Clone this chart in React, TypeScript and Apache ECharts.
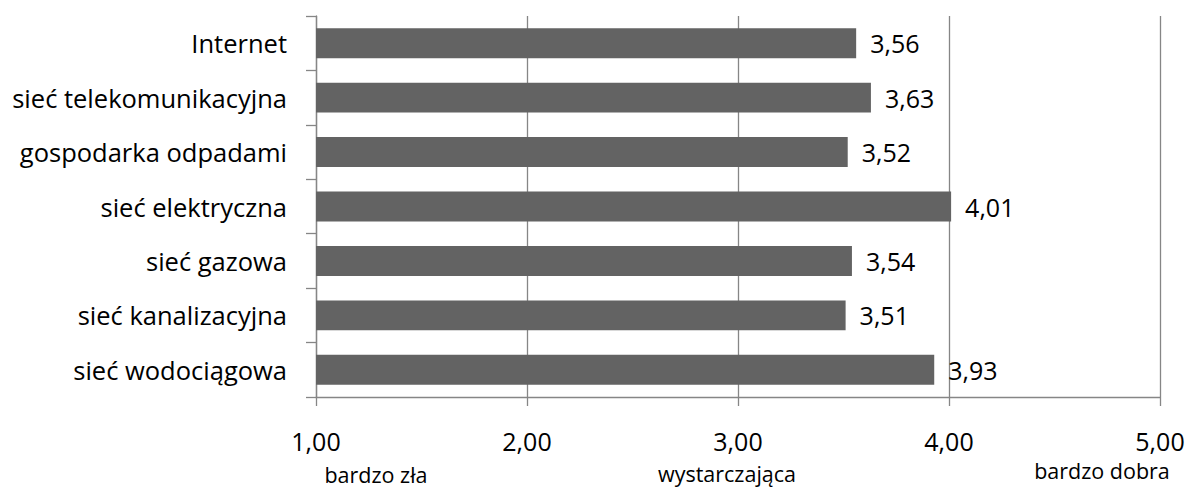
import React, { useEffect, useRef } from "react";
import * as echarts from "echarts";

const categories = [
  "Internet",
  "sieć telekomunikacyjna",
  "gospodarka odpadami",
  "sieć elektryczna",
  "sieć gazowa",
  "sieć kanalizacyjna",
  "sieć wodociągowa",
];
const values = [3.56, 3.63, 3.52, 4.01, 3.54, 3.51, 3.93];
const scaleNotes = [
  { text: "bardzo zła", x: 376, y: 474 },
  { text: "wystarczająca", x: 727, y: 473 },
  { text: "bardzo dobra", x: 1102, y: 470 },
];

const FONT = "Open Sans";
const fmt = (v: number) => v.toFixed(2).replace(".", ",");

export default function App() {
  const ref = useRef<HTMLDivElement>(null);
  useEffect(() => {
    if (!ref.current) return;
    const chart = echarts.init(ref.current, undefined, { renderer: "svg" });
    chart.setOption({
      animation: false,
      backgroundColor: "#ffffff",
      grid: { left: 316, right: 32, top: 16, bottom: 90, containLabel: false },
      xAxis: {
        type: "value",
        min: 1,
        max: 5,
        interval: 1,
        axisLine: { show: true, lineStyle: { color: "#868686", width: 1.3 } },
        axisTick: { show: true, length: 9, lineStyle: { color: "#868686", width: 1.3 } },
        splitLine: { show: true, lineStyle: { color: "#868686", width: 1.3 } },
        axisLabel: {
          formatter: (v: number) => fmt(v),
          fontFamily: FONT,
          fontSize: 25,
          color: "#000",
          margin: 31,
        },
      },
      yAxis: {
        type: "category",
        data: categories,
        inverse: true,
        axisLine: { show: true, lineStyle: { color: "#868686", width: 1.3 } },
        axisTick: { show: true, length: 10, lineStyle: { color: "#868686", width: 1.3 } },
        axisLabel: {
          fontFamily: FONT,
          fontSize: 25.5,
          color: "#000",
          margin: 29,
        },
      },
      series: [
        {
          type: "bar",
          data: values,
          barCategoryGap: "45%",
          itemStyle: { color: "#636363" },
          label: {
            show: true,
            position: "right",
            distance: 14,
            formatter: (p: any) => fmt(p.value),
            fontFamily: FONT,
            fontSize: 25,
            color: "#000",
          },
        },
      ],
      graphic: scaleNotes.map((n) => ({
        type: "text",
        x: n.x,
        y: n.y,
        style: {
          text: n.text,
          fontFamily: FONT,
          fontSize: 21.5,
          fill: "#000",
          textAlign: "center",
          textVerticalAlign: "middle",
        },
      })),
    });
    return () => chart.dispose();
  }, []);
  return <div ref={ref} style={{ width: 1192, height: 487, position: "absolute", left: 0, top: 0 }} />;
}
